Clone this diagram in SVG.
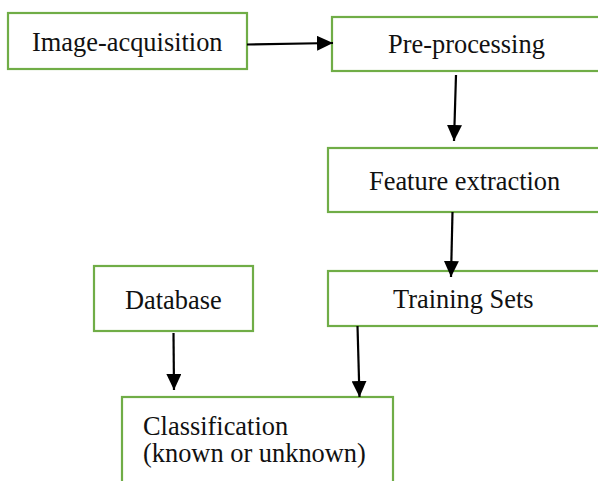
<svg xmlns="http://www.w3.org/2000/svg" width="598" height="481" viewBox="0 0 598 481">
  <defs>
    <marker id="arrow" viewBox="0 0 16 15" refX="16" refY="7.5" markerWidth="16" markerHeight="15" markerUnits="userSpaceOnUse" orient="auto">
      <path d="M0,0 L16,7.5 L0,15 Z" fill="#000"/>
    </marker>
  </defs>
  <style>
    .box { fill: #fff; stroke: #70ad47; stroke-width: 2.2; }
    .label { font-family: "Liberation Serif", "Times New Roman", serif; font-size: 26.4px; fill: #111; }
    .link { stroke: #000; stroke-width: 2.2; fill: none; marker-end: url(#arrow); }
  </style>
  <rect width="598" height="481" fill="#fff"/>

  <g id="image-acquisition">
    <rect class="box" x="8" y="13" width="239" height="56"/>
    <text class="label" x="32" y="51">Image-acquisition</text>
  </g>
  <g id="pre-processing">
    <rect class="box" x="332" y="17" width="280" height="54"/>
    <text class="label" x="388" y="53">Pre-processing</text>
  </g>
  <g id="feature-extraction">
    <rect class="box" x="328" y="148" width="284" height="64"/>
    <text class="label" x="369" y="190">Feature extraction</text>
  </g>
  <g id="training-sets">
    <rect class="box" x="328" y="271" width="284" height="55"/>
    <text class="label" x="393" y="308">Training Sets</text>
  </g>
  <g id="database">
    <rect class="box" x="94" y="266" width="159" height="65"/>
    <text class="label" x="125" y="309">Database</text>
  </g>
  <g id="classification">
    <rect class="box" x="122" y="397" width="271" height="100"/>
    <text class="label" x="143" y="435">Classification</text>
    <text class="label" x="143" y="462">(known or unknown)</text>
  </g>

  <g id="connectors">
    <line class="link" x1="247" y1="44.5" x2="333" y2="43"/>
    <line class="link" x1="456" y1="75" x2="454" y2="141"/>
    <line class="link" x1="452.5" y1="212" x2="451" y2="277"/>
    <line class="link" x1="173.5" y1="333" x2="174" y2="390"/>
    <line class="link" x1="357.5" y1="326" x2="359.5" y2="397"/>
  </g>
</svg>
